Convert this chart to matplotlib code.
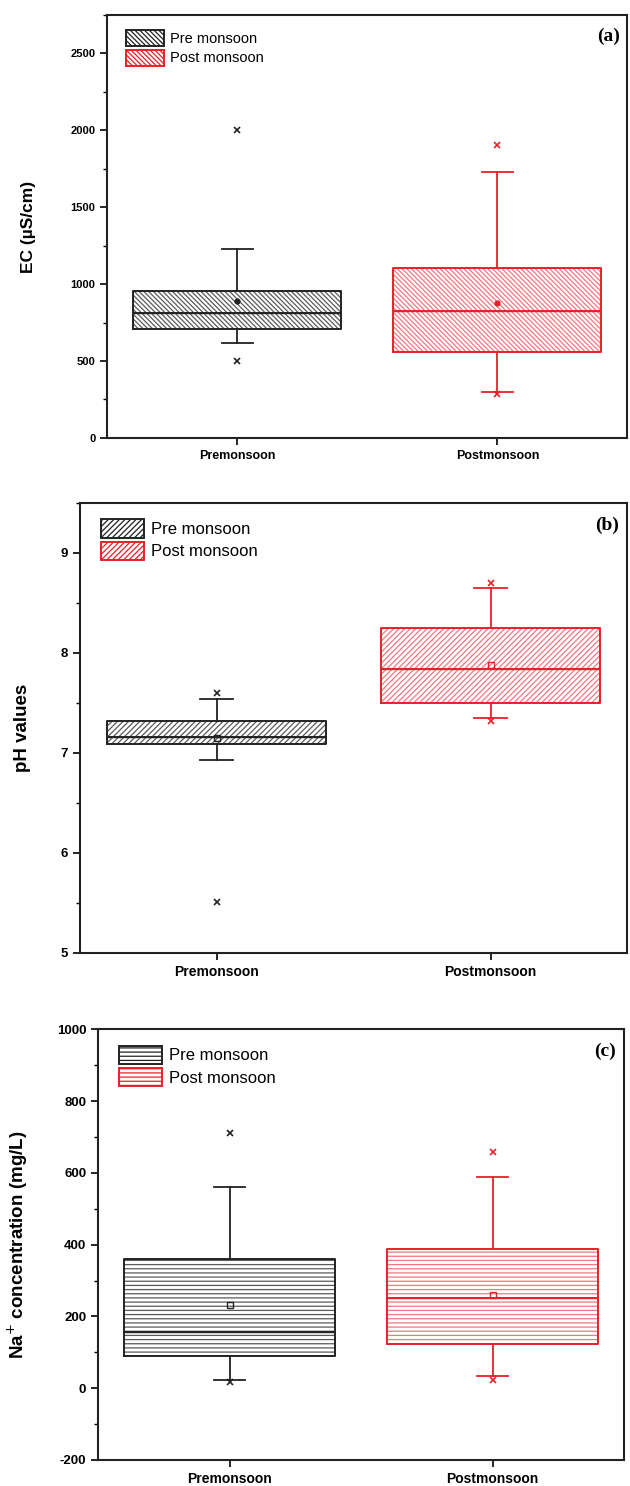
import numpy as np
import matplotlib
matplotlib.use('Agg')
import matplotlib.pyplot as plt
from matplotlib.patches import Patch
from matplotlib.ticker import MultipleLocator

plt.rcParams['font.family'] = ['Liberation Sans', 'DejaVu Sans']
plt.rcParams['hatch.linewidth'] = 0.9
plt.rcParams['axes.unicode_minus'] = False

seasons = ['Premonsoon', 'Postmonsoon']
legend_names = ['Pre monsoon', 'Post monsoon']

# EC (uS/cm)
ec_q1 = [708, 558]
ec_med = [812, 826]
ec_q3 = [955, 1102]
ec_lo = [617, 301]
ec_hi = [1227, 1729]
ec_mean = [891, 879]
ec_out = [[2000, 502], [1905, 285]]

# pH
ph_q1 = [7.09, 7.50]
ph_med = [7.16, 7.84]
ph_q3 = [7.32, 8.25]
ph_lo = [6.93, 7.35]
ph_hi = [7.54, 8.65]
ph_mean = [7.15, 7.88]
ph_out = [[7.60, 5.51], [8.70, 7.32]]

# Na+ (mg/L)
na_q1 = [90, 123]
na_med = [156, 252]
na_q3 = [359, 389]
na_lo = [23, 34]
na_hi = [560, 589]
na_mean = [232, 260]
na_out = [[710, 18], [659, 23]]

edge_cols = ['#222222', '#e8202a']
hatch_cols = ['#5a5a5a', '#f07880']


def make_stats(q1, med, q3, lo, hi, mean, out):
    st = []
    for i in range(2):
        st.append(dict(q1=q1[i], med=med[i], q3=q3[i], whislo=lo[i],
                       whishi=hi[i], mean=mean[i], fliers=np.array(out[i])))
    return st


def draw_panel(ax, stats, hatch, ylabel, letter, ylim, major, minor,
               tick_fs, xtick_fs, label_fs, leg_fs, label_x, mean_fill=False):
    pos = [1, 2]
    b = ax.bxp(stats, positions=pos, widths=0.8, patch_artist=True,
               showmeans=True, capwidths=0.12, zorder=2)
    for i in range(2):
        c = edge_cols[i]
        box = b['boxes'][i]
        box.set_facecolor('white')
        box.set_edgecolor(hatch_cols[i])
        box.set_hatch(hatch)
        box.set_linewidth(0)
        # outline drawn on top of the hatched fill
        ax.bxp([stats[i]], positions=[pos[i]], widths=0.8, showcaps=False,
               showfliers=False, showmeans=False,
               boxprops=dict(color=c, linewidth=1.4),
               medianprops=dict(color=c, linewidth=1.4),
               whiskerprops=dict(linewidth=0), zorder=3)
        for w in b['whiskers'][2 * i:2 * i + 2]:
            w.set_color(c)
            w.set_linewidth(1.3)
        for cp in b['caps'][2 * i:2 * i + 2]:
            cp.set_color(c)
            cp.set_linewidth(1.3)
        b['medians'][i].set_color(c)
        if mean_fill:
            b['means'][i].set(marker='o', markersize=3.5, markerfacecolor=c,
                              markeredgecolor=c, zorder=4)
        else:
            b['means'][i].set(marker='s', markersize=4, markerfacecolor='none',
                              markeredgecolor=c, markeredgewidth=1, zorder=4)
        b['fliers'][i].set(marker='x', markersize=5, markeredgecolor=c,
                           markeredgewidth=1.2)

    ax.set_xlim(0.5, 2.5)
    ax.set_ylim(*ylim)
    ax.set_xticks(pos)
    ax.set_xticklabels(seasons, fontsize=xtick_fs, fontweight='bold')
    ax.yaxis.set_major_locator(MultipleLocator(major))
    ax.yaxis.set_minor_locator(MultipleLocator(minor))
    for t in ax.get_yticklabels():
        t.set_fontweight('bold')
        t.set_fontsize(tick_fs)
    ax.tick_params(axis='both', which='major', direction='out', length=5,
                   width=1.2)
    ax.tick_params(axis='y', which='minor', direction='out', length=3,
                   width=1.0)
    ax.tick_params(top=False, right=False)
    for s in ax.spines.values():
        s.set_linewidth(1.5)
        s.set_color('#222222')
    ax.set_ylabel(ylabel, fontsize=label_fs, fontweight='bold')
    ax.yaxis.set_label_coords(label_x, 0.5)

    handles = [Patch(facecolor='white', edgecolor=edge_cols[i], hatch=hatch,
                     linewidth=1.4, label=legend_names[i]) for i in range(2)]
    ax.legend(handles=handles, loc='upper left', frameon=False,
              fontsize=leg_fs, handlelength=2.6, handleheight=1.3,
              handletextpad=0.4, labelspacing=0.25,
              bbox_to_anchor=(0.02, 0.985), borderaxespad=0.2)
    ax.text(0.985, 0.95, letter, transform=ax.transAxes, ha='right',
            va='center', fontsize=14, fontweight='bold',
            family='Liberation Serif')


fig = plt.figure(figsize=(6.3, 14.86), dpi=100)

ax1 = fig.add_axes([0.170, 0.7053, 0.826, 0.2846])
draw_panel(ax1, make_stats(ec_q1, ec_med, ec_q3, ec_lo, ec_hi, ec_mean, ec_out),
           '\\' * 7, 'EC (\u00b5S/cm)', '(a)', (0, 2750), 500, 250,
           8, 9, 12.5, 10.5, -0.137, mean_fill=True)

ax2 = fig.add_axes([0.127, 0.3587, 0.869, 0.3030])
draw_panel(ax2, make_stats(ph_q1, ph_med, ph_q3, ph_lo, ph_hi, ph_mean, ph_out),
           '/' * 6, 'pH values', '(b)', (5, 9.5), 1, 0.5,
           9.5, 10, 13.5, 12, -0.09)

ax3 = fig.add_axes([0.1556, 0.0175, 0.835, 0.2898])
draw_panel(ax3, make_stats(na_q1, na_med, na_q3, na_lo, na_hi, na_mean, na_out),
           '-' * 4, 'Na$^{+}$ concentration (mg/L)', '(c)', (-200, 1000), 200, 100,
           9.5, 10, 13.5, 12, -0.13)

fig.savefig('out.png', dpi=100)
